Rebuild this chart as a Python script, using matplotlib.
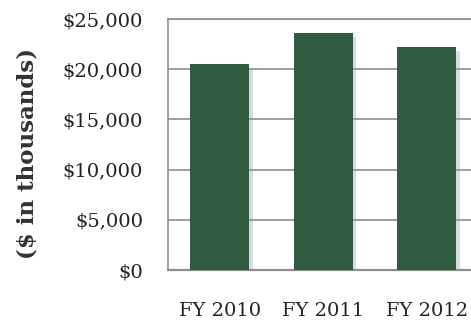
import matplotlib
matplotlib.use("Agg")
import matplotlib.pyplot as plt
import matplotlib.patheffects as pe
from matplotlib.ticker import FuncFormatter, MultipleLocator

categories = ["FY 2010", "FY 2011", "FY 2012"]
values = [20500, 23600, 22200]

W, H = 471, 323
fig = plt.figure(figsize=(W / 100, H / 100), dpi=100)
ax = fig.add_axes([168 / W, (323 - 270) / H, 310.5 / W, 251 / H])

bar_color = "#2f5c41"
grid_color = "#8e8e8e"
font = "DejaVu Serif"

x = range(len(categories))
bars = ax.bar(x, values, width=0.57, color=bar_color, zorder=3)
for b in bars:
    b.set_path_effects([
        pe.SimplePatchShadow(offset=(2.5, -2.5), shadow_rgbFace="#9a9a9a", alpha=0.35),
        pe.Normal(),
    ])

ax.set_xlim(-0.5, len(categories) - 0.5)
ax.set_ylim(0, 25000)
ax.yaxis.set_major_locator(MultipleLocator(5000))
ax.yaxis.set_major_formatter(FuncFormatter(lambda v, p: f"${v:,.0f}"))
ax.set_xticks(list(x))
ax.set_xticklabels(categories)

ax.grid(axis="y", color=grid_color, linewidth=1.2, zorder=0)
ax.set_axisbelow(True)
for side in ["left", "bottom", "top", "right"]:
    ax.spines[side].set_color(grid_color)
    ax.spines[side].set_linewidth(1.2)
ax.spines["bottom"].set_linewidth(1.6)

ax.tick_params(axis="both", length=0)
ax.tick_params(axis="y", pad=18)
ax.tick_params(axis="x", pad=23)
for lbl in ax.get_yticklabels() + ax.get_xticklabels():
    lbl.set_fontfamily(font)
    lbl.set_fontsize(14)
    lbl.set_color("#222222")

ax.set_ylabel("($ in thousands)", fontfamily=font, fontsize=16.5, fontweight="bold",
              color="#333333")
ax.yaxis.set_label_coords(-130 / 310.5, 0.464)

fig.savefig("out.png", dpi=100)
